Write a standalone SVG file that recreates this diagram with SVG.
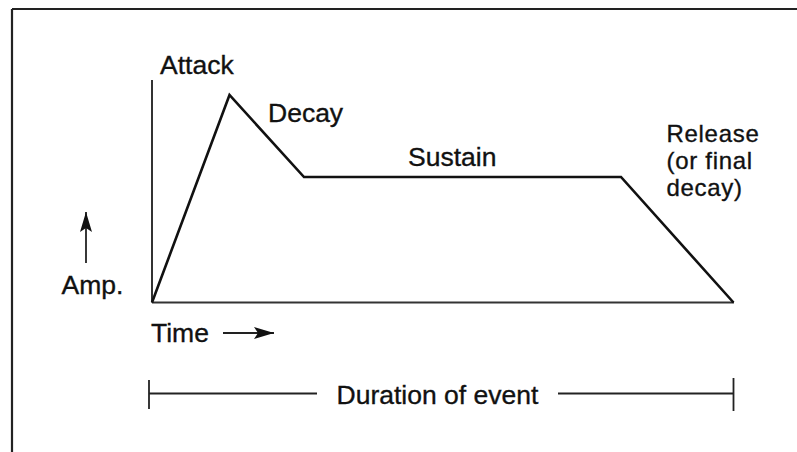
<svg xmlns="http://www.w3.org/2000/svg" width="797" height="452" viewBox="0 0 797 452">
  <style>
    .lbl { font-family: "Liberation Sans", Arial, sans-serif; font-size: 26.5px; fill: #111; stroke: #111; stroke-width: 0.35; }
    .lbl.sm { font-size: 24px; letter-spacing: 0.7px; }
    .frame { stroke: #222; stroke-width: 2.2; fill: none; }
    .axis { stroke: #333; stroke-width: 2; fill: none; }
    .env { stroke: #111; stroke-width: 2.6; fill: none; stroke-linejoin: miter; }
    .thin { stroke: #222; stroke-width: 1.8; fill: none; }
  </style>
  <defs>
    <marker id="head" viewBox="0 0 20 12" refX="20" refY="6" markerWidth="20" markerHeight="12" markerUnits="userSpaceOnUse" orient="auto">
      <path d="M0,0 L20,6 L0,12 L4,6 Z" fill="#111"/>
    </marker>
  </defs>
  <rect width="797" height="452" fill="#fff"/>

  <!-- page border (top and left edges) -->
  <g id="frame">
    <line class="frame" x1="12" y1="9" x2="797" y2="9"/>
    <line class="frame" x1="12" y1="9" x2="12" y2="452"/>
  </g>

  <!-- axes and envelope -->
  <g id="connectors">
    <line class="axis" x1="152" y1="80" x2="152" y2="302.5"/>
    <line class="axis" x1="152" y1="302.5" x2="734" y2="302.5"/>
    <polyline class="env" points="152,302.5 229.5,95 304,177 621,177 733.5,302.5"/>
    <!-- amplitude and time direction arrows -->
    <line class="thin" x1="86" y1="263" x2="86" y2="212" marker-end="url(#head)"/>
    <line class="thin" x1="223" y1="333" x2="274" y2="333" marker-end="url(#head)"/>
    <!-- duration bracket -->
    <line class="thin" x1="149" y1="393.5" x2="317" y2="393.5"/>
    <line class="thin" x1="149" y1="380" x2="149" y2="409"/>
    <line class="thin" x1="558" y1="393.5" x2="733.5" y2="393.5"/>
    <line class="thin" x1="733.5" y1="378" x2="733.5" y2="411"/>
  </g>

  <g id="attack"><text class="lbl" x="160" y="73.5">Attack</text></g>
  <g id="decay"><text class="lbl" x="268" y="121.5">Decay</text></g>
  <g id="sustain"><text class="lbl" x="408" y="165.5">Sustain</text></g>
  <g id="release">
    <text class="lbl sm" x="666.5" y="142">Release</text>
    <text class="lbl sm" x="666.5" y="169">(or final</text>
    <text class="lbl sm" x="666.5" y="196">decay)</text>
  </g>
  <g id="amp"><text class="lbl" x="61.5" y="293.5">Amp.</text></g>
  <g id="time"><text class="lbl" x="151" y="341.5">Time</text></g>
  <g id="duration"><text class="lbl" x="336.5" y="404">Duration of event</text></g>
</svg>
